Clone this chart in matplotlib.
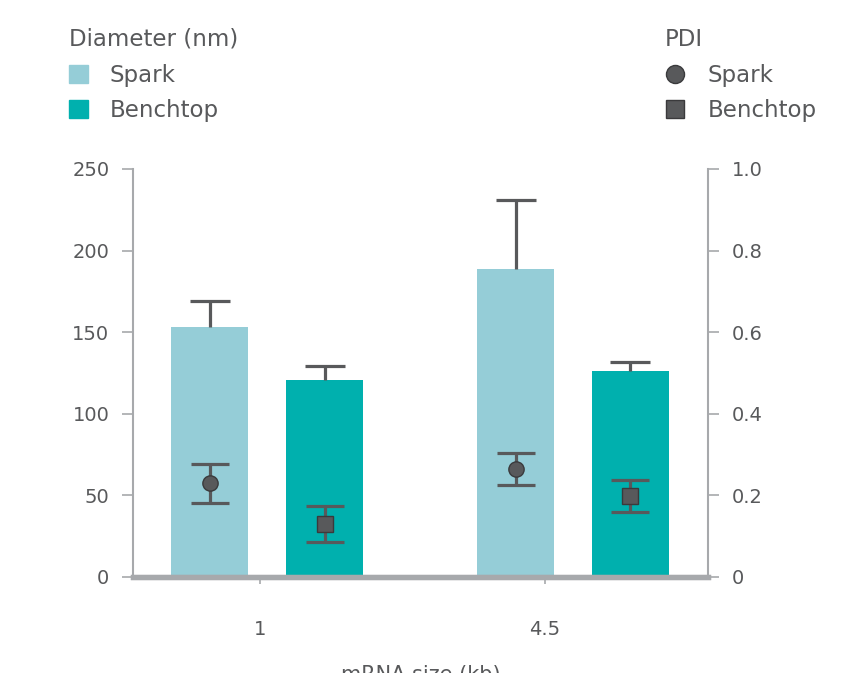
#!/usr/bin/env python3

import matplotlib
matplotlib.use('Agg')
import matplotlib.pyplot as plt
from matplotlib.patches import Patch
from matplotlib.lines import Line2D
import numpy as np

# data
sizes = ['1', '4.5']
diam_spark = [153, 189]
diam_spark_err = [16, 42]
diam_bench = [121, 126]
diam_bench_err = [8, 6]
pdi_spark = [0.23, 0.265]
pdi_spark_err = [0.048, 0.04]
pdi_bench = [0.13, 0.199]
pdi_bench_err = [0.043, 0.039]

SPARK_COL = '#95cdd7'
BENCH_COL = '#00b0ae'
DARK = '#58595b'
AXIS_GREY = '#a7a9ac'
TEXT = '#58595b'

WIDTH = 0.252
OFFSET = 0.188
TICK_POS = [-0.025, 0.908]

plt.rcParams['font.family'] = ['DejaVu Sans']
plt.rcParams['text.color'] = TEXT


def draw_bars(ax, x, vals, errs, color):
    ax.bar(x, vals, WIDTH, color=color, zorder=2)
    _, caps, _ = ax.errorbar(x, vals, yerr=[np.zeros(len(vals)), errs],
                             fmt='none', ecolor=DARK, elinewidth=2.3,
                             capsize=14.5, capthick=2.3, zorder=3)
    caps[0].set_visible(False)


def draw_pdi(ax, x, vals, errs, marker):
    line, _, _ = ax.errorbar(x, vals, yerr=errs, fmt=marker, ms=11, mfc=DARK,
                             mec='#3a3a3c', ecolor=DARK, elinewidth=2.3,
                             capsize=14, capthick=2.3, zorder=4)
    line.set_markeredgewidth(1)


fig = plt.figure(figsize=(8.61, 6.73), dpi=100)
ax = fig.add_axes([133 / 861, 1 - 577 / 673, 575 / 861, 408 / 673])
ax2 = ax.twinx()

x = np.arange(len(sizes))
draw_bars(ax, x - OFFSET, diam_spark, diam_spark_err, SPARK_COL)
draw_bars(ax, x + OFFSET, diam_bench, diam_bench_err, BENCH_COL)
draw_pdi(ax2, x - OFFSET, pdi_spark, pdi_spark_err, 'o')
draw_pdi(ax2, x + OFFSET, pdi_bench, pdi_bench_err, 's')

ax.set_xlim(-0.44, 1.442)
ax.set_ylim(0, 250)
ax2.set_ylim(0, 1)
ax.set_yticks([0, 50, 100, 150, 200, 250])
ax2.set_yticks([0, 0.2, 0.4, 0.6, 0.8, 1.0])
ax2.set_yticklabels(['0', '0.2', '0.4', '0.6', '0.8', '1.0'])
ax.set_xticks(TICK_POS)
ax.set_xticklabels(sizes)

for a in (ax, ax2):
    a.spines['top'].set_visible(False)
    a.spines['left'].set_color(AXIS_GREY)
    a.spines['right'].set_color(AXIS_GREY)
    a.spines['left'].set_linewidth(1.5)
    a.spines['right'].set_linewidth(1.5)
    a.spines['bottom'].set_color(AXIS_GREY)
    a.spines['bottom'].set_linewidth(3.8)
    a.spines['bottom'].set_zorder(5)
ax2.spines['left'].set_visible(False)
ax.spines['right'].set_visible(False)

ax.tick_params(axis='y', length=8, width=1.2, color=AXIS_GREY, pad=9,
               labelsize=14, labelcolor=TEXT)
ax2.tick_params(axis='y', length=8, width=1.2, color=AXIS_GREY, pad=9,
                labelsize=14, labelcolor=TEXT)
ax.tick_params(axis='x', length=5, width=1.2, color=AXIS_GREY, pad=26,
               labelsize=14, labelcolor=TEXT)
ax.set_xlabel('mRNA size (kb)', fontsize=15, color=TEXT, labelpad=19)

# legends
h1 = [Patch(color=SPARK_COL, label='Spark'),
      Patch(color=BENCH_COL, label='Benchtop')]
leg1 = fig.legend(handles=h1, title='Diameter (nm)', loc='upper left',
                  bbox_to_anchor=(69 / 861, 1 - 28 / 673), frameon=False,
                  fontsize=16.5, title_fontsize=16.5, handlelength=0.82,
                  handleheight=0.82, handletextpad=0.95, labelspacing=0.55,
                  borderpad=0, borderaxespad=0, alignment='left')

h2 = [Line2D([], [], ls='none', marker='o', ms=13, mfc=DARK, mec='#3a3a3c',
             label='Spark'),
      Line2D([], [], ls='none', marker='s', ms=13, mfc=DARK, mec='#3a3a3c',
             label='Benchtop')]
leg2 = fig.legend(handles=h2, title='PDI', loc='upper left',
                  bbox_to_anchor=(665 / 861, 1 - 28 / 673), frameon=False,
                  fontsize=16.5, title_fontsize=16.5, handlelength=0.85,
                  handletextpad=1.0, labelspacing=0.55, borderpad=0,
                  borderaxespad=0, alignment='left')
for lg in (leg1, leg2):
    lg.get_title().set_color(TEXT)
    for t in lg.get_texts():
        t.set_color(TEXT)

fig.savefig('out.png', dpi=100)
